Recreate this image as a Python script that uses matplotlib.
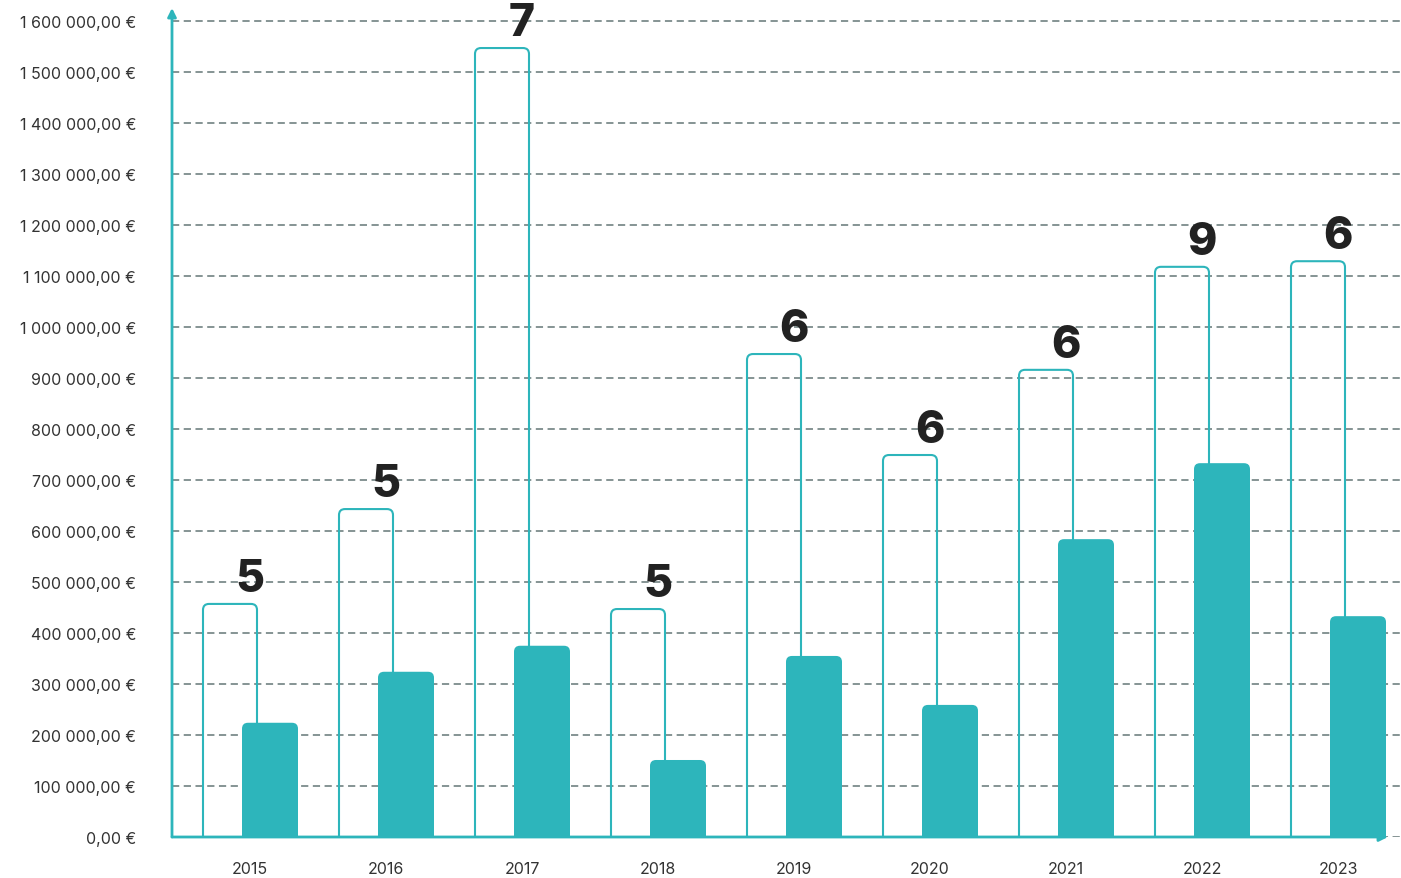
import matplotlib.pyplot as plt
from matplotlib.patches import FancyBboxPatch
from matplotlib.ticker import FuncFormatter, MultipleLocator
import numpy as np

years = ["2015", "2016", "2017", "2018", "2019", "2020", "2021", "2022", "2023"]
outline_vals = [457000, 643000, 1547000, 447000, 947000, 749000, 916000, 1118000, 1129000]
filled_vals = [224000, 324000, 375000, 151000, 355000, 259000, 584000, 733000, 433000]
counts = [5, 5, 7, 5, 6, 6, 6, 9, 6]

teal = "#2DB5BB"
txt = "#333333"
plt.rcParams['font.family'] = ['Inter', 'DejaVu Sans']

W, H = 1401, 879
fig = plt.figure(figsize=(W / 100, H / 100), dpi=100)
ax = fig.add_axes([172 / W, (H - 838) / H, (W - 172) / W, (838 - 9) / H])

x = np.arange(len(years))
px = 1 / 136.0  # data units per pixel along x
ypx = 1600000 / 816.0  # data units per pixel along y

ax.set_xlim(-78 * px, (W - 172 - 78) * px)
ax.set_ylim(0, 1600000 + 13 * ypx)


def fmt(v, pos):
    s = f"{int(round(v)):,}".replace(",", " ")
    return f"{s},00 €"


ax.yaxis.set_major_locator(MultipleLocator(100000))
ax.yaxis.set_major_formatter(FuncFormatter(fmt))
ax.grid(axis="y", color="#7C8B8B", linestyle=(0, (4, 2.5)), linewidth=1.3)
ax.set_axisbelow(True)
for s in ax.spines.values():
    s.set_visible(False)
ax.tick_params(axis="y", length=0, pad=26, labelsize=11.5, labelcolor=txt)
ax.tick_params(axis="x", length=0, pad=17, labelsize=11.5, labelcolor=txt)
ax.set_xticks(x)
ax.set_xticklabels(years)

# outlined bars (total) and filled bars
ob = ax.bar(x - 20 * px, outline_vals, width=54 * px, facecolor="none",
            edgecolor=teal, linewidth=1.5, zorder=2)
fb = ax.bar(x + 20 * px, filled_vals, width=56 * px, color=teal, zorder=3)

aspect = ypx / px
for bars, kw in ((ob, dict(facecolor="none", edgecolor=teal, linewidth=1.5, zorder=2)),
                 (fb, dict(facecolor=teal, edgecolor="none", zorder=3))):
    for b in bars:
        x0, w, h = b.get_x(), b.get_width(), b.get_height()
        b.set_visible(False)
        p = FancyBboxPatch((x0, -12 * ypx), w, h + 12 * ypx,
                           boxstyle=f"round,pad=0,rounding_size={6 * px}",
                           mutation_aspect=aspect, **kw)
        ax.add_patch(p)

for xi, v, c in zip(x, outline_vals, counts):
    ax.text(xi, v + 13 * ypx, str(c), ha="center", va="baseline",
            fontsize=32, fontweight="heavy", color="#222222", zorder=5)

# axes with arrows
ax.annotate("", xy=(-78 * px, 1600000 + 13 * ypx), xytext=(-78 * px, 0),
            arrowprops=dict(arrowstyle="-|>,head_width=0.25,head_length=0.5",
                            color=teal, lw=2, shrinkA=0, shrinkB=0),
            annotation_clip=False, zorder=6)
ax.annotate("", xy=(1388 * px - 250 * px, 0), xytext=(-78 * px, 0),
            arrowprops=dict(arrowstyle="-|>,head_width=0.25,head_length=0.5",
                            color=teal, lw=2, shrinkA=0, shrinkB=0),
            annotation_clip=False, zorder=6)

fig.savefig("out.png", dpi=100)
